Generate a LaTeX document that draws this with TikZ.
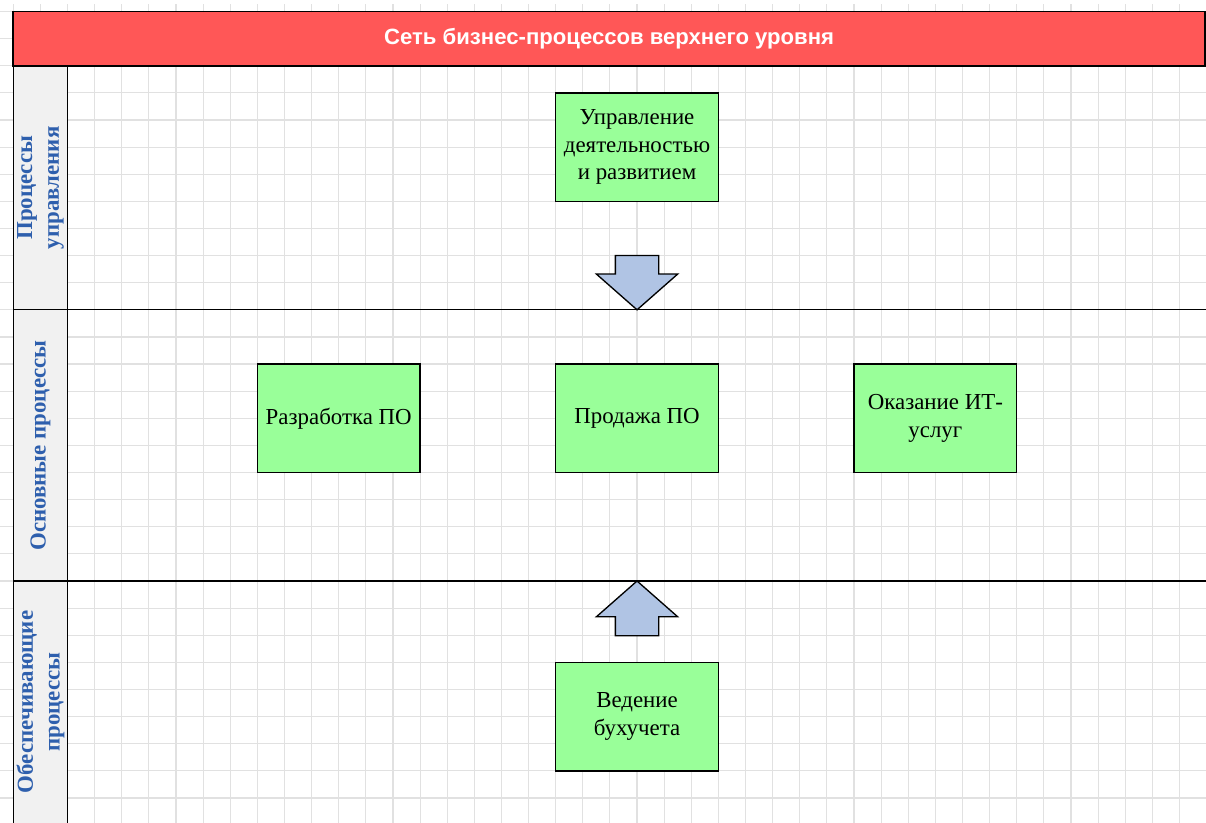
\documentclass[tikz,border=0pt]{standalone}
\usepackage{fontspec}
\setmainfont{Liberation Serif}
\newfontfamily\headfont{Liberation Sans}
\usetikzlibrary{positioning}
\definecolor{hdrred}{HTML}{FF5757}
\definecolor{boxgreen}{HTML}{99FF99}
\definecolor{arrblue}{HTML}{B0C4E4}
\definecolor{lanegrey}{HTML}{F1F1F1}
\definecolor{laneblue}{HTML}{2E5FAD}
\definecolor{gridgrey}{HTML}{E1E1E1}

\begin{document}
\begin{tikzpicture}[x=0.5cm, y=0.5cm,
	proc/.style={draw, line width=0.7pt, fill=boxgreen, minimum width=3cm, minimum height=2cm, align=center, font=\fontsize{12}{14.4}\selectfont},
	lanename/.style={rotate=90, align=center, text=laneblue, font=\bfseries\fontsize{12}{14}\selectfont},
	lane/.style={line width=0.7pt},
	blockarr/.style={draw, line width=0.7pt, fill=arrblue, line join=miter}]
	\useasboundingbox (-0.49,0.424) rectangle (43.98,-29.92);
	\draw[gridgrey, line width=0.6pt, step=0.5cm] (-0.49,0.28) grid (43.98,-29.92);
	\fill[lanegrey] (0,-2) rectangle (2,-30);
	\node[draw, line width=1pt, fill=hdrred, minimum width=21.97cm, minimum height=1cm, text=white, font=\headfont\bfseries\fontsize{11.6}{14}\selectfont] (title) at (21.97,-1) {Сеть бизнес-процессов верхнего уровня};
	\draw[lane] (0,-2) -- (0,-30);
	\draw[lane] (2,-2) -- (2,-30);
	\draw[lane] (0,-11) -- (44,-11);
	\draw[lane] (0,-21) -- (44,-21);
	\node[lanename] (mgmt) at (1,-6.5) {Процессы\\управления};
	\node[lanename] (core) at (1,-16) {Основные процессы};
	\node[lanename] (supp) at (1,-25.46) {Обеспечивающие\\процессы};
	\node[proc] (sale) at (23,-15) {Продажа ПО};
	\node[proc] (dev) [node distance = 5.5cm] [left of = sale] {Разработка ПО};
	\node[proc] (its) [node distance = 5.5cm] [right of = sale] {Оказание ИТ-\\услуг};
	\node[proc] (mgmtbox) [node distance = 5cm] [above of = sale] {Управление\\деятельностью\\и развитием};
	\node[proc] (acct) [node distance = 5.5cm] [below of = sale] {Ведение\\бухучета};
	\coordinate (dtip) at (23,-11);
	\coordinate (utip) at (23,-21);
	\draw[blockarr] (dtip) -- ++(1.5,1.32) -- ++(-0.7,0) -- ++(0,0.68) -- ++(-1.6,0) -- ++(0,-0.68) -- ++(-0.7,0) -- cycle;
	\draw[blockarr] (utip) -- ++(1.5,-1.32) -- ++(-0.7,0) -- ++(0,-0.7) -- ++(-1.6,0) -- ++(0,0.7) -- ++(-0.7,0) -- cycle;
\end{tikzpicture}
\end{document}
